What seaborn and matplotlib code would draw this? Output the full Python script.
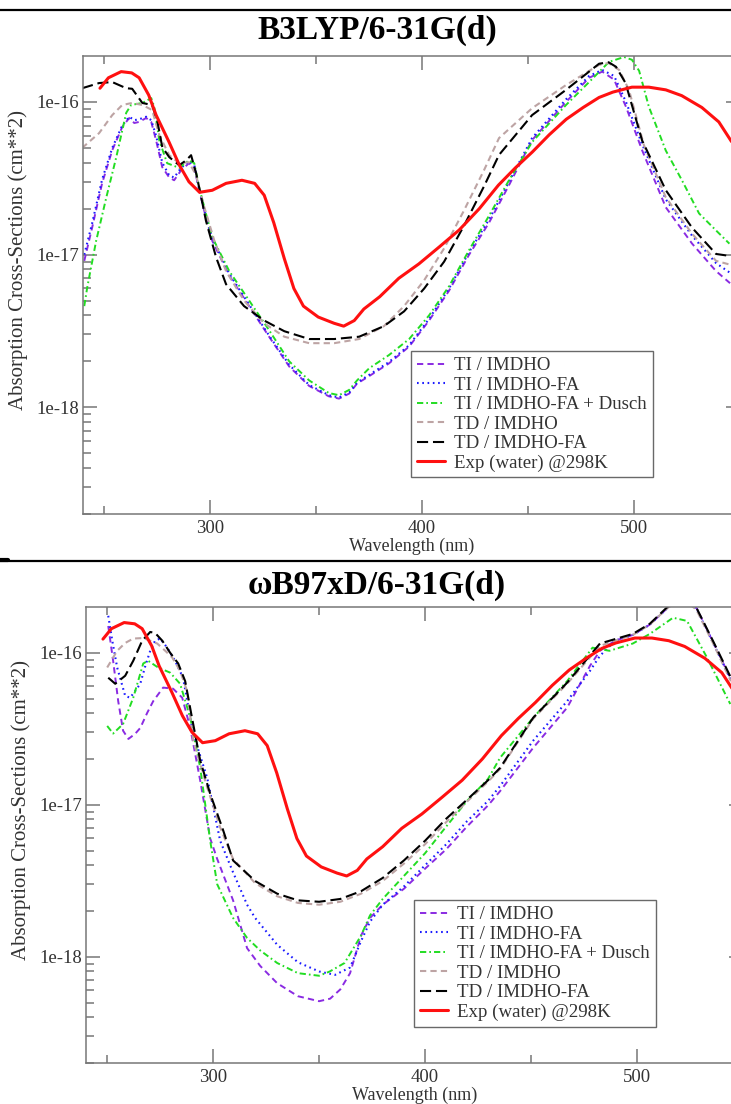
import numpy as np
import pandas as pd
import matplotlib
matplotlib.use("Agg")
import matplotlib.pyplot as plt
from matplotlib.lines import Line2D
from matplotlib.ticker import FixedLocator, MultipleLocator, FixedFormatter, NullFormatter
import seaborn as sns

sns.set_style("ticks")
plt.rcParams["font.family"] = ["Liberation Serif", "DejaVu Serif"]
plt.rcParams["lines.scale_dashes"] = False

UNIT = 1e-18  # all cross-section values below are in units of 1e-18 cm**2

# ---------------- experimental spectrum (same in both panels) ----------------
EXP_WL = [248, 252, 258, 263, 266.5, 271, 274.5, 280.5, 285.5, 290, 295, 301, 307.5, 315, 321,
          325.5, 330, 335, 339.5, 344, 351, 358.5, 363, 368, 372.5, 380, 389, 398.5, 408, 417.5,
          427, 436, 444, 452, 460, 468, 476, 483.5, 490, 499, 507, 515, 522.5, 532, 540, 546]
EXP_V = [123, 144, 158, 155, 144, 111, 82, 55, 38.5, 30, 25.6, 26.4, 29.3, 30.7, 29.3,
         24.5, 16.2, 9.4, 6.0, 4.6, 3.9, 3.55, 3.4, 3.7, 4.4, 5.3, 7.0, 8.7, 11.2, 14.5,
         20, 28.5, 37, 47, 61, 77, 92, 107, 116, 125, 125, 120, 110, 92, 74, 55]

# ---------------- B3LYP/6-31G(d) ----------------
B3_TI_WL = [240.6, 244.3, 249, 253.8, 258.5, 261.8, 264.2, 266.5, 269.8, 272.2, 274.5, 277.4, 280.7,
            283, 286.3, 290, 292.5, 294.8, 298, 301, 309, 318.4, 327.8, 337.3, 346.7, 356, 360.8,
            365.6, 369.3, 375, 384.4, 393.9, 403.3, 412.7, 422, 431.6, 441, 451.9, 467.9, 478.8,
            485, 490.6, 496.2, 503.8, 515, 527.4, 538.7, 545.3]
B3_TI_V = [9.1, 15, 29.3, 48.3, 68.5, 78.5, 72.8, 74, 78.5, 74, 56, 37.4, 32,
           30.7, 35.7, 39.7, 37.4, 26.4, 17.5, 12.3, 7.3, 4.6, 2.9, 1.85, 1.38, 1.18, 1.14,
           1.23, 1.43, 1.6, 1.94, 2.5, 3.7, 5.8, 9.9, 16.2, 28.5, 56.3, 100, 144,
           158, 140, 93, 48.3, 20.4, 11.8, 7.8, 6.5]
B3_TIFA_WL = list(B3_TI_WL)
B3_TIFA_V = [10, 16, 31, 50, 70, 80, 76, 77, 80, 76, 60, 40, 33,
             32, 37, 41, 38.5, 27, 18, 12.8, 7.5, 4.7, 2.95, 1.9, 1.4, 1.2, 1.16,
             1.25, 1.45, 1.63, 1.98, 2.55, 3.8, 6.0, 10.3, 17, 30, 58, 104, 148,
             162, 148, 100, 53, 23, 13.3, 8.8, 7.6]
B3_DU_WL = [240.6, 242, 246.2, 251, 255.7, 260.4, 262.7, 268, 272.2, 273.6, 276, 279.7, 285.4, 290,
            292.5, 294.8, 298, 301, 309, 318.4, 327.8, 337.3, 346.7, 356, 360.8, 365.6, 369.3, 375,
            384.4, 393.9, 403.3, 412.7, 422, 431.6, 441, 451.9, 467.9, 478.8, 488.2, 495.3, 499,
            502.4, 507, 515, 522.6, 530.7, 538.7, 545]
B3_DU_V = [4.6, 6.1, 12.3, 23.7, 43.5, 85, 95.5, 98.5, 106, 93, 56, 39.7, 37, 41.5,
           39.7, 27.6, 18.6, 13, 7.8, 5.0, 3.2, 2.0, 1.5, 1.24, 1.2, 1.3, 1.5, 1.8,
           2.2, 2.8, 4.0, 6.2, 10.6, 18, 30.7, 54.6, 95.5, 135, 183, 197, 189,
           160, 93, 48, 30.7, 18.6, 14.4, 11.8]
B3_TD_WL = [239.6, 247.6, 253.8, 258.5, 263.2, 268, 272.6, 276, 280.7, 285.4, 290, 293.4, 297, 302,
            307.5, 316, 325.5, 335, 346.7, 358.5, 370.3, 382, 391.5, 401, 410.4, 419.8, 429.2,
            436.3, 451.9, 467.9, 483.5, 488, 493, 497.6, 504.7, 515, 527.4, 538.7, 545.3]
B3_TD_V = [50, 62.5, 82, 95.5, 98.5, 95.5, 88.6, 60.7, 44.8, 39.7, 40.3, 33, 21, 12.3,
           7.8, 5.0, 3.55, 2.9, 2.63, 2.63, 2.8, 3.4, 4.6, 6.8, 11, 19.5, 35.7,
           58, 91, 129, 175, 180, 162, 120, 52, 23.7, 13.7, 9.1, 8.6]
B3_TDFA_WL = [239.6, 247.6, 253.8, 260.4, 263.2, 268, 272.6, 275, 277.4, 280.7, 285.4, 288.7, 291,
              293.4, 295.8, 298, 302.8, 307.5, 316, 325.5, 335, 346.7, 358.5, 370.3, 382, 391.5,
              401, 410.4, 419.8, 429.2, 436.3, 451.9, 467.9, 483.5, 488, 491.5, 496, 503.8, 515,
              527.4, 538.7, 545.3]
B3_TDFA_V = [123, 133, 135, 123, 122, 98.5, 95.5, 76, 50.6, 43.5, 38.5, 41.5, 44.8,
             34, 23.7, 16.7, 9.6, 6.4, 4.6, 3.7, 3.15, 2.8, 2.8, 2.9, 3.4, 4.25,
             6.0, 9.0, 15.5, 28, 45, 82, 120, 178, 182, 170, 133, 56, 26.4,
             15, 10.1, 9.8]

# ---------------- wB97xD/6-31G(d) ----------------
WB_TI_WL = [250.5, 252.8, 255.2, 257.5, 260, 263.2, 265.6, 268.9, 271.7, 276.4, 281.1, 285.4, 289.2,
            293.9, 298.6, 301.9, 309.4, 316, 322.2, 330.2, 340, 350, 355.2, 360, 364.6, 369.8, 374,
            380, 390, 400, 410, 419.8, 429.7, 435.4, 451, 467, 477.8, 482.5, 489.6, 498, 506, 514,
            521, 528, 535.8, 544.3]
WB_TI_V = [150, 88.6, 48, 30.7, 27.1, 29.3, 32, 40.3, 48, 59, 58, 50.6, 32,
           14.4, 6.0, 4.4, 2.35, 1.14, 0.87, 0.67, 0.55, 0.51, 0.53, 0.61, 0.78, 1.38, 1.8,
           2.2, 2.8, 3.8, 5.1, 7.2, 9.9, 12.3, 23.7, 43.5, 82, 103, 120, 131, 153, 195,
           233, 198, 118, 67]
WB_TIFA_WL = [250.5, 252.4, 254.7, 258.5, 260.8, 263.2, 265.6, 268, 270.3, 272.6, 275, 278.3, 282,
              285.8, 290.6, 297.2, 303.3, 309, 316, 319.8, 330.2, 340, 350, 357.5, 364.6, 369.8,
              374, 380, 390, 400, 410, 419.8, 429.7, 435.4, 451, 467, 477.8, 482.5, 489.6, 498,
              506, 514, 521, 528, 535.8, 544.3]
WB_TIFA_V = [175, 120, 80, 52, 50.6, 56, 62.5, 82, 103, 120, 124, 108, 88.6,
             68.5, 29.3, 15, 5.8, 3.7, 2.2, 1.8, 1.2, 0.92, 0.8, 0.76, 0.85, 1.27,
             1.7, 2.2, 2.9, 4.0, 5.5, 7.8, 10.6, 13.3, 26.4, 48, 76, 95.5, 120, 131,
             153, 195, 233, 195, 117, 66]
WB_DU_WL = [250, 252.8, 257.5, 262.3, 267, 269.3, 274, 279.7, 284.4, 289.2, 293.9, 298.6, 301.9,
            309.4, 316, 322.2, 330.2, 340, 350, 355, 362, 369.8, 374, 380, 390, 400, 410, 419.8,
            429.7, 435.4, 451, 467, 479, 487, 498, 506, 517, 523.6, 533, 544]
WB_DU_V = [33, 29.4, 34, 50.6, 85, 88.6, 80, 74, 62.5, 37.4, 17.5, 5.8, 3.0,
           1.8, 1.33, 1.1, 0.91, 0.78, 0.75, 0.8, 0.91, 1.38, 1.87, 2.4, 3.4, 4.8, 7.2, 10.6,
           14.8, 20.4, 37.4, 65, 108, 103, 115, 133, 170, 162, 93, 46]
WB_TD_WL = [250, 254.7, 258.5, 262.3, 267, 270.3, 273.6, 277.4, 280.7, 284.4, 287.7, 290.6, 297.2,
            303.3, 309.4, 319.8, 330.2, 340, 350, 360, 369.8, 380, 390, 400, 410, 419.8, 429.7,
            435.4, 451, 467, 482.5, 498, 506, 514, 521, 528, 535.8, 544.3]
WB_TD_V = [80, 103, 116, 124, 125, 120, 115, 103, 93, 76, 56, 26.4, 13,
           7.1, 4.4, 3.05, 2.5, 2.26, 2.2, 2.3, 2.6, 3.15, 4.1, 5.5, 7.7, 10.5, 14.2,
           17.2, 36.8, 62.5, 111, 131, 153, 195, 230, 192, 116, 65]
WB_TDFA_WL = [250.5, 253.8, 258.5, 262.3, 266.5, 270.3, 272.6, 276, 279.7, 283.5, 286.8, 290, 293.9,
              298.6, 304.7, 309.4, 319.8, 330.2, 340, 350, 360, 369.8, 380, 390, 400, 410, 419.8,
              429.7, 435.4, 451, 467, 482.5, 498, 506, 514, 521, 528, 535.8, 544.3]
WB_TDFA_V = [68.5, 62.5, 70.6, 88.6, 120, 137, 135, 120, 100, 85, 65, 37.4, 19.5,
             11.8, 6.8, 4.3, 3.15, 2.6, 2.35, 2.3, 2.4, 2.7, 3.3, 4.3, 5.8, 8.1, 10.8,
             14.5, 17.5, 37.4, 63.5, 115, 133, 155, 198, 237, 198, 120, 68.5]

SERIES = ["TI / IMDHO", "TI / IMDHO-FA", "TI / IMDHO-FA + Dusch",
          "TD / IMDHO", "TD / IMDHO-FA", "Exp (water) @298K"]
PANELS = {
    "B3LYP/6-31G(d)": [(B3_TI_WL, B3_TI_V), (B3_TIFA_WL, B3_TIFA_V), (B3_DU_WL, B3_DU_V),
                       (B3_TD_WL, B3_TD_V), (B3_TDFA_WL, B3_TDFA_V), (EXP_WL, EXP_V)],
    "\u03c9B97xD/6-31G(d)": [(WB_TI_WL, WB_TI_V), (WB_TIFA_WL, WB_TIFA_V), (WB_DU_WL, WB_DU_V),
                            (WB_TD_WL, WB_TD_V), (WB_TDFA_WL, WB_TDFA_V), (EXP_WL, EXP_V)],
}
Y_TICKS = [1e-18, 1e-17, 1e-16]
Y_TICK_LABELS = ["1e-18", "1e-17", "1e-16"]
Y_MINOR = [m * d for d in (1e-19, 1e-18, 1e-17) for m in range(2, 10)]

STYLES = {
    "TI / IMDHO": dict(color="#8a2be2", lw=1.4, ls=(0, (4.5, 3.0))),
    "TI / IMDHO-FA": dict(color="#1a1aff", lw=1.5, ls=(0, (1.2, 2.6))),
    "TI / IMDHO-FA + Dusch": dict(color="#22dd22", lw=1.4, ls=(0, (4.5, 2.2, 1.2, 2.2))),
    "TD / IMDHO": dict(color="#bda4a4", lw=1.5, ls=(0, (4.5, 3.0))),
    "TD / IMDHO-FA": dict(color="#000000", lw=1.5, ls=(0, (8.0, 3.5))),
    "Exp (water) @298K": dict(color="#ff1010", lw=2.2, ls="-"),
}

FIG_W, FIG_H = 731, 1104
fig = plt.figure(figsize=(FIG_W / 100, FIG_H / 100), dpi=100)
fig.patch.set_facecolor("white")

axes_px = {  # left, top, bottom in pixels
    "B3LYP/6-31G(d)": (83, 56, 514),
    "\u03c9B97xD/6-31G(d)": (86, 607, 1063),
}
title_y = {"B3LYP/6-31G(d)": 30, "\u03c9B97xD/6-31G(d)": 585}

SPINE = "#777777"
TXT = "#333333"

for title, series in PANELS.items():
    left, top, bottom = axes_px[title]
    ax = fig.add_axes([left / FIG_W, 1 - bottom / FIG_H, 657 / FIG_W, (bottom - top) / FIG_H])
    rows = []
    for name, (wl, v) in zip(SERIES, series):
        rows.append(pd.DataFrame({"wl": wl, "sigma": np.asarray(v) * UNIT, "series": name}))
    df = pd.concat(rows, ignore_index=True)
    handles = []
    for name in SERIES:
        st = STYLES[name]
        sub = df[df["series"] == name]
        sns.lineplot(data=sub, x="wl", y="sigma", ax=ax, color=st["color"], lw=st["lw"],
                     estimator=None, sort=False, legend=False)
        ln = ax.lines[-1]
        ln.set_linestyle(st["ls"])
        ln.set_label(name)
        handles.append(ln)
    ax.set_yscale("log")
    ax.set_xlim(240, 550)
    ax.set_ylim(2e-19, 2e-16)
    ax.xaxis.set_major_locator(MultipleLocator(100))
    ax.xaxis.set_minor_locator(MultipleLocator(50))
    ax.yaxis.set_major_locator(FixedLocator(Y_TICKS))
    ax.yaxis.set_major_formatter(FixedFormatter(Y_TICK_LABELS))
    ax.yaxis.set_minor_locator(FixedLocator(Y_MINOR))
    ax.yaxis.set_minor_formatter(NullFormatter())
    ax.tick_params(which="both", direction="in", top=True, right=True, color=SPINE,
                   width=1.1, labelsize=13.5, labelcolor=TXT)
    ax.tick_params(which="major", length=10, pad=4)
    ax.tick_params(which="minor", length=5.5)
    ax.tick_params(axis="y", which="major", pad=3)
    for sp in ax.spines.values():
        sp.set_color(SPINE)
        sp.set_linewidth(1.1)
    ax.set_xlabel("Wavelength (nm)", fontsize=13, color=TXT, labelpad=1)
    ax.set_ylabel("Absorption Cross-Sections (cm**2)", fontsize=15, color=TXT, labelpad=3)
    ax.yaxis.set_label_coords(-0.083, 0.555)
    ax.grid(False)
    leg = ax.legend(handles=handles, labels=SERIES, loc="lower left",
                    bbox_to_anchor=(0.499, 0.08), borderaxespad=0, fontsize=13.6,
                    frameon=True, fancybox=False, handlelength=1.5, handletextpad=0.5,
                    labelspacing=0.12, borderpad=0.3)
    leg.get_frame().set_edgecolor("#444444")
    leg.get_frame().set_linewidth(1.0)
    for t in leg.get_texts():
        t.set_color(TXT)
    fig.text(377 / FIG_W, 1 - title_y[title] / FIG_H, title, ha="center", va="center",
             fontsize=24, fontweight="bold", color="black")

# separator rules of the surrounding table
fig.add_artist(Line2D([0, 1], [1 - 10 / FIG_H] * 2, transform=fig.transFigure, color="black", lw=1.6))
fig.add_artist(Line2D([0, 1], [1 - 561 / FIG_H] * 2, transform=fig.transFigure, color="black", lw=1.6))
fig.add_artist(Line2D([0, 8 / FIG_W], [1 - 560 / FIG_H] * 2, transform=fig.transFigure, color="black", lw=3))

fig.savefig("out.png", dpi=100, facecolor="white")
